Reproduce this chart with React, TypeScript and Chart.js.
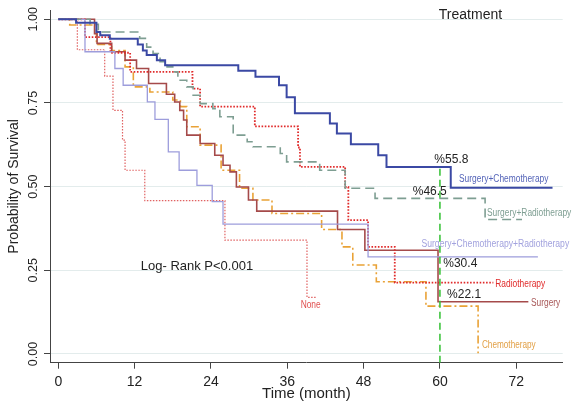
import React, { useEffect, useRef } from 'react';
import { Chart, registerables } from 'chart.js';
Chart.register(...registerables);

// ---- Data ----
const xTickValues = [0, 12, 24, 36, 48, 60, 72];
const yTickValues = [0, 0.25, 0.5, 0.75, 1];
const yTickLabels = ['0.00', '0.25', '0.50', '0.75', '1.00'];

const seriesNames = [
  'Surgery+Chemotherapy',
  'Surgery+Radiotherapy',
  'Surgery+Chemotherapy+Radiotherapy',
  'Radiotherapy',
  'Surgery',
  'Chemotherapy',
  'None',
];

const surgChemoTime = [0, 2.8, 6.0, 6.6, 8.1, 12.5, 13.3, 13.9, 15.5, 16.8, 28.3, 31.0, 34.7, 35.9, 37.2, 42.7, 43.8, 46.0, 50.3, 51.6, 61.7, 77.7];
const surgChemoSurv = [1, 0.990, 0.962, 0.952, 0.942, 0.925, 0.907, 0.893, 0.878, 0.863, 0.846, 0.828, 0.803, 0.767, 0.719, 0.689, 0.659, 0.627, 0.594, 0.559, 0.497, 0.497];

const surgRadioTime = [0, 5.0, 6.3, 12.8, 13.9, 14.9, 16.0, 17.1, 18.0, 18.8, 20.2, 21.2, 22.3, 24.3, 25.4, 27.5, 29.7, 30.6, 34.9, 35.9, 41.1, 45.1, 49.8, 67.1, 72.9];
const surgRadioSurv = [1, 0.985, 0.962, 0.943, 0.917, 0.898, 0.873, 0.858, 0.843, 0.818, 0.798, 0.773, 0.748, 0.733, 0.709, 0.654, 0.634, 0.619, 0.599, 0.574, 0.549, 0.495, 0.465, 0.402, 0.402];

const scrTime = [0, 4.2, 8.9, 10.2, 14.0, 15.2, 17.3, 19.0, 21.8, 24.2, 25.9, 48.7, 75.4];
const scrSurv = [1, 0.903, 0.853, 0.803, 0.753, 0.701, 0.604, 0.549, 0.504, 0.455, 0.388, 0.290, 0.290];

const radioTime = [0, 4.2, 8.2, 11.3, 21.1, 22.3, 30.9, 37.7, 38.0, 45.1, 45.6, 48.7, 52.9, 68.4];
const radioSurv = [1, 0.947, 0.900, 0.843, 0.793, 0.739, 0.680, 0.617, 0.559, 0.499, 0.400, 0.320, 0.213, 0.213];

const surgeryTime = [0, 5.7, 6.1, 8.4, 10.5, 12.3, 14.2, 17.0, 18.3, 19.1, 19.7, 20.2, 22.3, 24.6, 25.9, 27.0, 28.0, 29.9, 31.2, 43.9, 48.2, 59.7, 73.9];
const surgerySurv = [1, 0.957, 0.928, 0.903, 0.878, 0.853, 0.808, 0.776, 0.753, 0.728, 0.699, 0.654, 0.629, 0.594, 0.564, 0.544, 0.499, 0.460, 0.427, 0.372, 0.310, 0.156, 0.156];

const chemoTime = [0, 1.8, 6.0, 8.4, 10.5, 11.8, 14.4, 18.0, 19.2, 20.2, 22.3, 25.6, 28.5, 30.6, 33.6, 41.4, 44.6, 46.3, 50.0, 57.8, 66.0];
const chemoSurv = [1, 0.983, 0.925, 0.907, 0.858, 0.798, 0.783, 0.759, 0.739, 0.679, 0.624, 0.549, 0.495, 0.460, 0.420, 0.372, 0.320, 0.266, 0.216, 0.143, 0.002];

const noneTime = [0, 3.0, 7.3, 8.6, 10.1, 10.5, 13.6, 26.2, 39.1, 40.5];
const noneSurv = [1, 0.909, 0.830, 0.728, 0.639, 0.549, 0.458, 0.340, 0.169, 0.169];

const refLineTime = [60, 60];
const refLineSurv = [-0.026, 0.558];

const pctLabels = ['%55.8', '%46.5', '%30.4', '%22.1'];
const titleText = 'Treatment';
const logRankText = 'Log- Rank P<0.001';

// ---- Styles / annotation placement (data coordinates) ----
const seriesStyles = [
  { color: '#3B49A4', width: 2, dash: [] as number[], label: '#5464B8' },
  { color: '#7E9E92', width: 1.6, dash: [9, 5], label: '#7E9E92' },
  { color: '#9D9DDC', width: 1.3, dash: [] as number[], label: '#A2A2DE' },
  { color: '#E02A2A', width: 1.8, dash: [1.6, 1.6], label: '#E02A2A' },
  { color: '#A54A4A', width: 1.6, dash: [] as number[], label: '#A85858' },
  { color: '#E9A236', width: 1.6, dash: [8, 3, 2, 3], label: '#E2A046' },
  { color: '#E06262', width: 1.2, dash: [1.5, 1.5], label: '#E05050' },
];
const seriesLabelPos = [
  { x: 63.0, y: 0.523, sx: 0.84 },
  { x: 67.4, y: 0.422, sx: 0.84 },
  { x: 57.1, y: 0.328, sx: 0.86 },
  { x: 68.7, y: 0.209, sx: 0.84 },
  { x: 74.3, y: 0.151, sx: 0.84 },
  { x: 66.6, y: 0.025, sx: 0.82 },
  { x: 38.1, y: 0.145, sx: 0.84 },
];
const pctPos = [
  { x: 61.8, y: 0.581 },
  { x: 58.4, y: 0.484 },
  { x: 63.2, y: 0.271 },
  { x: 63.8, y: 0.176 },
];

function toPoints(t: number[], s: number[]) {
  return t.map((v, i) => ({ x: v, y: s[i] }));
}

export default function App() {
  const ref = useRef<HTMLCanvasElement | null>(null);
  useEffect(() => {
    if (!ref.current) return;
    Chart.defaults.font.family = '"Liberation Sans", Arial, sans-serif';
    const seriesData = [
      toPoints(surgChemoTime, surgChemoSurv),
      toPoints(surgRadioTime, surgRadioSurv),
      toPoints(scrTime, scrSurv),
      toPoints(radioTime, radioSurv),
      toPoints(surgeryTime, surgerySurv),
      toPoints(chemoTime, chemoSurv),
      toPoints(noneTime, noneSurv),
    ];
    const datasets: any[] = [
      {
        label: 'ref60',
        data: toPoints(refLineTime, refLineSurv),
        borderColor: '#3EC43E',
        borderWidth: 1.6,
        borderDash: [7, 4],
        pointRadius: 0,
        stepped: false,
      },
      ...seriesNames.map((n, i) => ({
        label: n,
        data: seriesData[i],
        borderColor: seriesStyles[i].color,
        borderWidth: seriesStyles[i].width,
        borderDash: seriesStyles[i].dash,
        pointRadius: 0,
        stepped: 'before',
        fill: false,
      })),
    ];

    const textPlugin = {
      id: 'texts',
      afterDraw(chart: any) {
        const { ctx, scales } = chart;
        const xs = scales.x, ys = scales.y;
        ctx.save();
        // rotated y tick labels
        ctx.fillStyle = '#222';
        ctx.font = '12.5px "Liberation Sans", Arial, sans-serif';
        yTickValues.forEach((v, i) => {
          const py = ys.getPixelForValue(v);
          ctx.save();
          ctx.translate(ys.right - 13.5, py);
          ctx.rotate(-Math.PI / 2);
          ctx.textAlign = 'center';
          ctx.textBaseline = 'alphabetic';
          ctx.fillText(yTickLabels[i], 0, 0);
          ctx.restore();
        });
        // title and log-rank
        ctx.textAlign = 'center';
        ctx.textBaseline = 'middle';
        ctx.font = '14px "Liberation Sans", Arial, sans-serif';
        ctx.fillText(titleText, xs.getPixelForValue(64.8), ys.getPixelForValue(1.0125));
        ctx.font = '13px "Liberation Sans", Arial, sans-serif';
        ctx.fillText(logRankText, xs.getPixelForValue(21.8), ys.getPixelForValue(0.263));
        // percentage labels
        ctx.font = '12px "Liberation Sans", Arial, sans-serif';
        pctLabels.forEach((t, i) => {
          ctx.fillText(t, xs.getPixelForValue(pctPos[i].x), ys.getPixelForValue(pctPos[i].y));
        });
        // series labels
        ctx.textAlign = 'left';
        ctx.font = '10px "Liberation Sans", Arial, sans-serif';
        seriesNames.forEach((n, i) => {
          const p = seriesLabelPos[i];
          ctx.save();
          ctx.translate(xs.getPixelForValue(p.x), ys.getPixelForValue(p.y));
          ctx.scale(p.sx, 1);
          ctx.fillStyle = seriesStyles[i].label;
          ctx.fillText(n, 0, 0);
          ctx.restore();
        });
        ctx.restore();
      },
    };

    const chart = new Chart(ref.current, {
      type: 'line',
      data: { datasets },
      plugins: [textPlugin],
      options: {
        animation: false,
        responsive: false,
        events: [],
        layout: { padding: { top: 10, right: 24.3, left: 0, bottom: 0 } },
        plugins: { legend: { display: false }, tooltip: { enabled: false } },
        scales: {
          x: {
            type: 'linear',
            min: -1.3,
            max: 79.3,
            afterBuildTicks: (scale: any) => {
              scale.ticks = xTickValues.map((v) => ({ value: v }));
            },
            afterFit: (scale: any) => {
              scale.height = 42.3;
            },
            ticks: {
              autoSkip: false,
              maxRotation: 0,
              minRotation: 0,
              padding: 5,
              color: '#222',
              font: { size: 14 },
            },
            grid: { drawOnChartArea: false, drawTicks: true, tickLength: 6, tickColor: '#444' },
            border: { display: true, color: '#444', width: 1 },
            title: {
              display: true,
              text: 'Time (month)',
              color: '#222',
              font: { size: 15 },
              padding: { top: 0, bottom: 2 },
            },
          },
          y: {
            type: 'linear',
            min: -0.026,
            max: 1.0278,
            afterBuildTicks: (scale: any) => {
              scale.ticks = yTickValues.map((v) => ({ value: v }));
            },
            afterFit: (scale: any) => {
              scale.width = 50;
            },
            ticks: { display: false },
            grid: { color: '#E3ECEC', lineWidth: 1, drawTicks: true, tickLength: 6, tickColor: '#444' },
            border: { display: true, color: '#444', width: 1 },
            title: {
              display: true,
              text: 'Probability of Survival',
              color: '#222',
              font: { size: 14 },
              padding: { top: 6, bottom: 0 },
            },
          },
        },
      } as any,
    });
    return () => chart.destroy();
  }, []);

  return (
    <div style={{ position: 'fixed', left: 0, top: 0, width: 587, height: 405, background: '#fff' }}>
      <canvas ref={ref} width={587} height={405} style={{ display: 'block' }} />
    </div>
  );
}
